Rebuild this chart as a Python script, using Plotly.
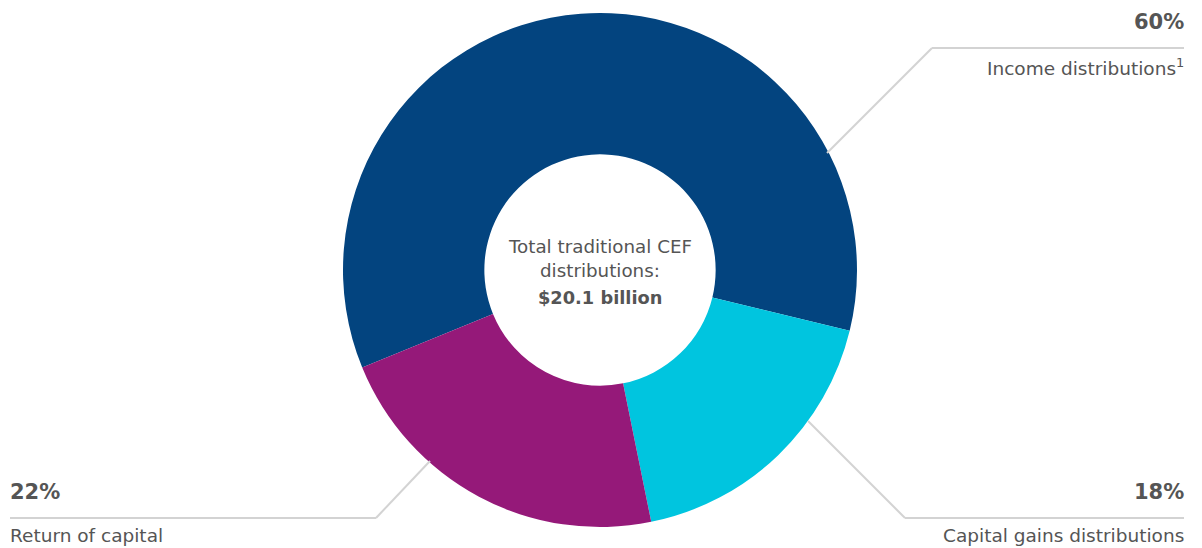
import plotly.graph_objects as go

categories = ["Income distributions", "Capital gains distributions", "Return of capital"]
values = [60, 18, 22]
colors = ["#03447F", "#00C5DF", "#951979"]
pct_labels = ["60%", "18%", "22%"]
center_lines = ["Total traditional CEF", "distributions:"]
center_total = "$20.1 billion"

# page has 8px body margin; work in screenshot coordinates and shift
OFF = 8
W, H = 1194, 540
FONT = "'DejaVu Sans', sans-serif"
TXT = "#555555"
LINE = "#D3D3D3"

CX, CY, R = 600 - OFF, 270 - OFF, 257

fig = go.Figure(go.Pie(
    labels=categories,
    values=values,
    marker=dict(colors=colors, line=dict(width=0)),
    hole=0.45,
    sort=False,
    direction="clockwise",
    rotation=247.7,
    textinfo="none",
    hoverinfo="label+percent",
    domain=dict(x=[(CX - R) / W, (CX + R) / W], y=[(H - CY - R) / H, (H - CY + R) / H]),
    showlegend=False,
))

def px(x):
    return (x - OFF) / W

def py(y):
    return 1 - (y - OFF) / H

shapes = []
def seg(x0, y0, x1, y1):
    shapes.append(dict(type="line", xref="paper", yref="paper",
                       x0=px(x0), y0=py(y0), x1=px(x1), y1=py(y1),
                       line=dict(color=LINE, width=2)))

# leader lines (screenshot coordinates)
seg(1184, 48, 932, 48); seg(932, 48, 827, 153)
seg(1184, 518, 905, 518); seg(905, 518, 808, 421)
seg(10, 518, 376, 518); seg(376, 518, 430, 461)

ann = []
def text(x, y, s, anchor, size, bold=False):
    ann.append(dict(xref="paper", yref="paper", x=px(x), y=py(y), text=(f"<b>{s}</b>" if bold else s),
                    showarrow=False, xanchor=anchor, yanchor="middle",
                    font=dict(family=FONT, size=size, color=TXT)))

text(1186, 22, pct_labels[0], "right", 21, True)
text(1186, 67, categories[0] + "<sup>1</sup>", "right", 18.5)
text(1186, 492, pct_labels[1], "right", 21, True)
text(1186, 535, categories[1], "right", 18.5)
text(8, 492, pct_labels[2], "left", 21, True)
text(8, 535, categories[2], "left", 18.5)

text(600, 246, center_lines[0], "center", 18.3)
text(600, 270, center_lines[1], "center", 18.3)
text(600, 297, center_total, "center", 17.8, True)

fig.update_layout(
    width=W, height=H,
    margin=dict(l=0, r=0, t=0, b=0),
    paper_bgcolor="white", plot_bgcolor="white",
    shapes=shapes, annotations=ann,
)

fig.write_html("out.html")
